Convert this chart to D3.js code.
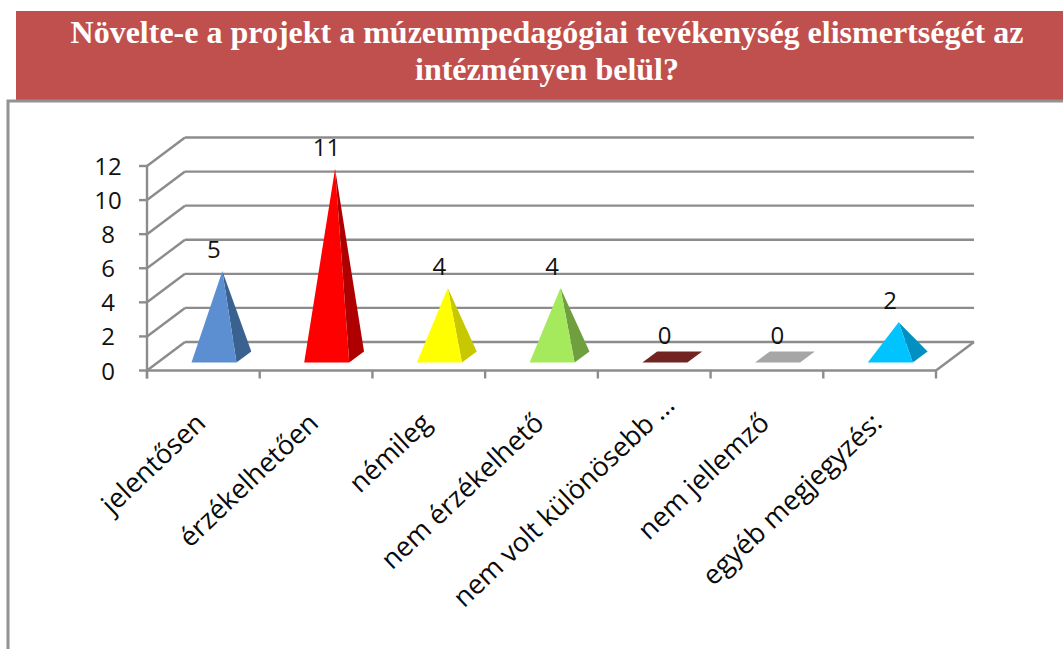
<!DOCTYPE html>
<html><head><meta charset="utf-8">
<script src="https://cdn.jsdelivr.net/npm/d3@7"></script>
<style>html,body{margin:0;padding:0;background:#fff;overflow:hidden}svg{display:block}</style>
</head><body>
<svg id="c" width="1063" height="649"></svg>
<script>
const titleLines = ["Növelte-e a projekt a múzeumpedagógiai tevékenység elismertségét az","intézményen belül?"];
const categories = ["jelentősen","érzékelhetően","némileg","nem érzékelhető","nem volt különösebb …","nem jellemző","egyéb megjegyzés:"];
const values = [5,11,4,4,0,0,2];
const frontColors = ["#5B8FD2","#FF0000","#FFFF00","#A4EA5C","#722423","#A6A6A6","#00C3FF"];
const sideColors = ["#3A6291","#AE0000","#C8C800","#6F9F3F","#722423","#A6A6A6","#0090C2"];
const yTicks = [0,2,4,6,8,10,12];

const svg = d3.select("#c");
const GRID = "#8C8C8C";
const FONT = "'Open Sans',sans-serif";

const x = d3.scaleBand().domain(d3.range(categories.length)).range([147,936]);
const y = d3.scaleLinear().domain([0,12]).range([370.5,166]);
const depth = d3.scaleLinear().domain([0,1]).range([0,38]);
const lift = d3.scaleLinear().domain([0,1]).range([0,-28.5]);
const P = (px,v,d)=>[px+depth(d), y(v)+lift(d)];

svg.append("rect").attr("x",16).attr("y",11).attr("width",1047).attr("height",89).attr("fill","#C0504D");
svg.append("text").attr("font-family","'Liberation Serif',serif").attr("font-weight",700)
  .attr("font-size",32).attr("fill","#fff").attr("text-anchor","middle")
  .selectAll("tspan").data(titleLines).join("tspan")
  .attr("x",547).attr("y",(d,i)=>43+i*37).text(d=>d);

svg.append("path").attr("d","M8,649V101H1063").attr("fill","none").attr("stroke","#929292").attr("stroke-width",3);

const line = (a,b)=>svg.append("line").attr("x1",a[0]).attr("y1",a[1]).attr("x2",b[0]).attr("y2",b[1])
  .attr("stroke",GRID).attr("stroke-width",2.4);
const L = x.range()[0], R = x.range()[1];
yTicks.forEach(t=>{
  line(P(L,t,0),P(L,t,1));
  line(P(L,t,1),P(R,t,1));
  line([L-8,y(t)],[L,y(t)]);
  svg.append("text").attr("x",L-39).attr("y",y(t)+9).attr("text-anchor","middle")
    .attr("font-family",FONT).attr("font-size",24).attr("fill","#111").text(t);
});
line([L,y(12)],[L,y(0)+8]);
line([L,y(0)],[R,y(0)]);
line(P(R,0,0),P(R,0,1));
x.domain().concat([categories.length]).forEach(i=>{
  const px = i===categories.length ? R : x(i);
  line([px,y(0)],[px,y(0)+8]);
});

const halfW = 22.5, dFront = 0.28, dBack = 0.67;
const poly = pts=>pts.map(p=>p.join(",")).join(" ");
values.forEach((v,i)=>{
  const c = x(i)+x.bandwidth()/2;
  const fl = P(c-halfW,0,dFront), fr = P(c+halfW,0,dFront);
  const br = P(c+halfW,0,dBack), bl = P(c-halfW,0,dBack);
  const g = svg.append("g");
  if(v===0){
    g.append("polygon").attr("points",poly([fl,fr,br,bl])).attr("fill",frontColors[i]);
  } else {
    const apex = P(c,v,0.5);
    g.append("polygon").attr("points",poly([fr,br,apex])).attr("fill",sideColors[i]);
    g.append("polygon").attr("points",poly([fl,fr,apex])).attr("fill",frontColors[i]);
  }
  svg.append("text").attr("x",c+10.5).attr("y",y(v)-27).attr("text-anchor","middle")
    .attr("font-family",FONT).attr("font-size",24).attr("fill","#111").text(v);
  const slide = categories[i].endsWith("…") ? 18 : 0;
  const tx = c+4+slide, ty = 425-slide;
  svg.append("text").attr("transform",`translate(${tx},${ty}) rotate(-43.5)`).attr("text-anchor","end")
    .attr("font-family",FONT).attr("font-size",27).attr("fill","#0a0a0a").text(categories[i]);
});
</script>
</body></html>
